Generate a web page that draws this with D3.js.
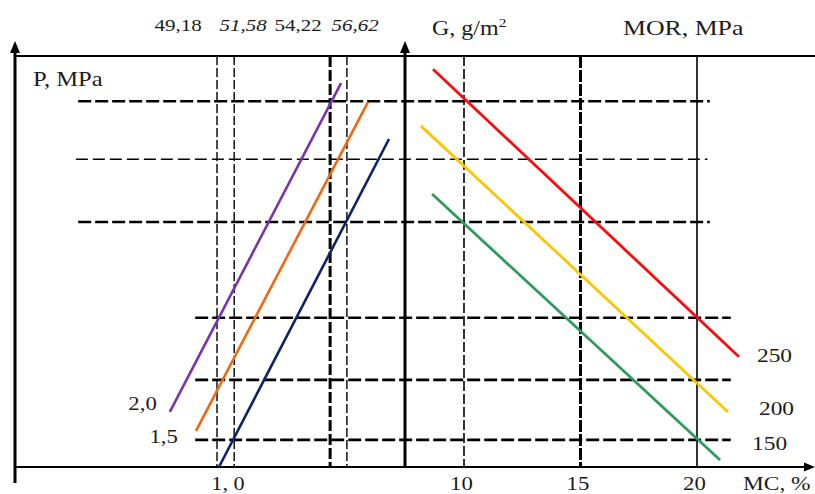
<!DOCTYPE html>
<html lang="en">
<head>
<meta charset="UTF-8">
<script src="https://d3js.org/d3.v7.min.js"></script>
<title>Nomogram</title>
<style>
  body { margin: 0; background: #fff; }
  text { font-family: "Liberation Serif", "Times New Roman", serif; fill: #1c1c1c; }
</style>
</head>
<body>
<div id="chart"></div>
<script>
// ---- data ----
// vertical scale is unlabelled in the source, kept in relative units 0..100
var topLabels = ["49,18", "51,58", "54,22", "56,62"];
var topLabelItalic = [false, true, false, true];
var topLabelX = [41.8, 58.5, 72.6, 87.2];       // left panel units
var leftGrid = [51.8, 56.2, 80.8, 85.1];        // left panel verticals
var leftGridBold = [false, false, true, false];

var mcTicks = [10, 15, 20];                     // MC, %
var mcGridStyle = ["thin", "bold", "solid"];

var hLevels = [89.0, 74.9, 59.6, 36.3, 21.2, 6.6];
var hStart = [16.2, 15.6, 16.2, 46.2, 46.2, 46.2]; // left panel units
var hEnd = [20.55, 20.45, 20.55, 21.45, 21.45, 21.45]; // MC units
var hBold = [true, false, true, true, true, true];

var pLabels = ["1, 0", "1,5", "2,0"];           // P, MPa
var pStart = [[52.3, 0.0], [46.4, 8.8], [39.7, 13.4]];
var pEnd = [[95.9, 79.8], [90.5, 88.8], [83.6, 93.4]];
var pColors = ["#0b2467", "#f2680f", "#7a32a8"];

var gLabels = ["250", "200", "150"];            // G, g/m2
var gStart = [[8.67, 96.8], [8.15, 83.0], [8.63, 66.4]];
var gEnd = [[21.80, 26.8], [21.33, 13.4], [20.99, 1.7]];
var gColors = ["#ff0a0a", "#ffc400", "#2f9a5e"];

// ---- layout ----
var W = 815, H = 494;
var svg = d3.select("#chart").append("svg").attr("width", W).attr("height", H);

var y = d3.scaleLinear().domain([0, 100]).range([467, 56]);
var xL = d3.scaleLinear().domain([0, 100]).range([15, 405]);
var xR = d3.scaleLinear().domain([10, 20]).range([464, 697]);

var SX = 1.2; // the source lettering is stretched horizontally
var FONT = "Liberation Serif, Times New Roman, serif";

function label(x, yy, s, size, anchor, italic) {
  return svg.append("text")
    .attr("transform", "translate(" + x + "," + yy + ") scale(" + SX + ",1)")
    .attr("text-anchor", anchor || "start")
    .attr("font-family", FONT)
    .attr("font-size", size)
    .attr("font-style", italic ? "italic" : "normal")
    .text(s);
}

// horizontal guide lines (span both panels)
hLevels.forEach(function(v, i) {
  svg.append("line")
    .attr("x1", xL(hStart[i])).attr("x2", xR(hEnd[i]))
    .attr("y1", y(v)).attr("y2", y(v))
    .attr("stroke", "#000")
    .attr("stroke-width", hBold[i] ? 2.6 : 1.5)
    .attr("stroke-dasharray", hBold[i] ? "13,4" : "12,5");
});

// left panel verticals
leftGrid.forEach(function(v, i) {
  svg.append("line")
    .attr("x1", xL(v)).attr("x2", xL(v))
    .attr("y1", y(100)).attr("y2", y(0))
    .attr("stroke", "#000")
    .attr("stroke-width", leftGridBold[i] ? 3 : 1.4)
    .attr("stroke-dasharray", leftGridBold[i] ? "11,3" : "9,3");
});

// right panel verticals
mcTicks.forEach(function(v, i) {
  var st = mcGridStyle[i];
  svg.append("line")
    .attr("x1", xR(v)).attr("x2", xR(v))
    .attr("y1", y(100)).attr("y2", y(0))
    .attr("stroke", "#000")
    .attr("stroke-width", st == "bold" ? 3 : 1.6)
    .attr("stroke-dasharray", st == "thin" ? "10,3" : st == "bold" ? "12,2" : null);
});

// frame and axes
svg.append("line").attr("x1", 15).attr("x2", W).attr("y1", y(100)).attr("y2", y(100))
  .attr("stroke", "#000").attr("stroke-width", 2);
svg.append("line").attr("x1", 15).attr("x2", W - 4).attr("y1", y(0)).attr("y2", y(0))
  .attr("stroke", "#000").attr("stroke-width", 2);
svg.append("line").attr("x1", 15).attr("x2", 15).attr("y1", 48).attr("y2", 483)
  .attr("stroke", "#000").attr("stroke-width", 3);
svg.append("line").attr("x1", 405).attr("x2", 405).attr("y1", 48).attr("y2", y(0))
  .attr("stroke", "#000").attr("stroke-width", 3);

// arrow heads
[[15, 41], [405, 41]].forEach(function(p) {
  svg.append("path")
    .attr("d", "M" + p[0] + "," + p[1] + "L" + (p[0] - 5) + "," + (p[1] + 12) + "L" + (p[0] + 5) + "," + (p[1] + 12) + "Z")
    .attr("fill", "#000");
});
svg.append("path")
  .attr("d", "M" + W + "," + y(0) + "L" + (W - 11) + "," + (y(0) - 4.5) + "L" + (W - 11) + "," + (y(0) + 4.5) + "Z")
  .attr("fill", "#000");

// pressure lines (left panel)
pLabels.forEach(function(lab, i) {
  svg.append("line")
    .attr("x1", xL(pStart[i][0])).attr("y1", y(pStart[i][1]))
    .attr("x2", xL(pEnd[i][0])).attr("y2", y(pEnd[i][1]))
    .attr("stroke", pColors[i]).attr("stroke-width", 2.6);
});
label(xL(pStart[0][0]) + 9, 490, pLabels[0], 18.5, "middle");
label(xL(pStart[1][0]) - 18, y(pStart[1][1]) + 12, pLabels[1], 19, "end");
label(xL(pStart[2][0]) - 13, y(pStart[2][1]) - 2, pLabels[2], 19, "end");

// grammage lines (right panel)
var gOff = [[18, 5], [31, 3], [32, -10]];
gLabels.forEach(function(lab, i) {
  svg.append("line")
    .attr("x1", xR(gStart[i][0])).attr("y1", y(gStart[i][1]))
    .attr("x2", xR(gEnd[i][0])).attr("y2", y(gEnd[i][1]))
    .attr("stroke", gColors[i]).attr("stroke-width", 2.8);
  label(xR(gEnd[i][0]) + gOff[i][0], y(gEnd[i][1]) + gOff[i][1], lab, 19.5, "start");
});

// MC axis labels
var ax = svg.append("g").attr("transform", "translate(-3," + y(0) + ")")
  .call(d3.axisBottom(xR).tickValues(mcTicks).tickSize(0).tickPadding(0).tickFormat(d3.format("d")));
ax.select(".domain").remove();
ax.attr("font-family", FONT);
ax.selectAll("text")
  .attr("y", 0).attr("dy", 23)
  .attr("font-size", 19)
  .attr("font-family", FONT)
  .attr("fill", "#1c1c1c")
  .attr("transform", "scale(" + SX + ",1)");
label(743, 490, "MC, %", 19.5, "start");

// top value labels
topLabels.forEach(function(s, i) {
  label(xL(topLabelX[i]), 31, s, 17.5, "middle", topLabelItalic[i]);
});

// axis titles
label(33, 86, "P, MPa", 20.5, "start");
var g = label(432, 35, "G, g/m", 20, "start");
g.append("tspan").attr("dy", -8).attr("font-size", 13).text("2");
label(623, 35, "MOR, MPa", 21.5, "start");
</script>
</body>
</html>
